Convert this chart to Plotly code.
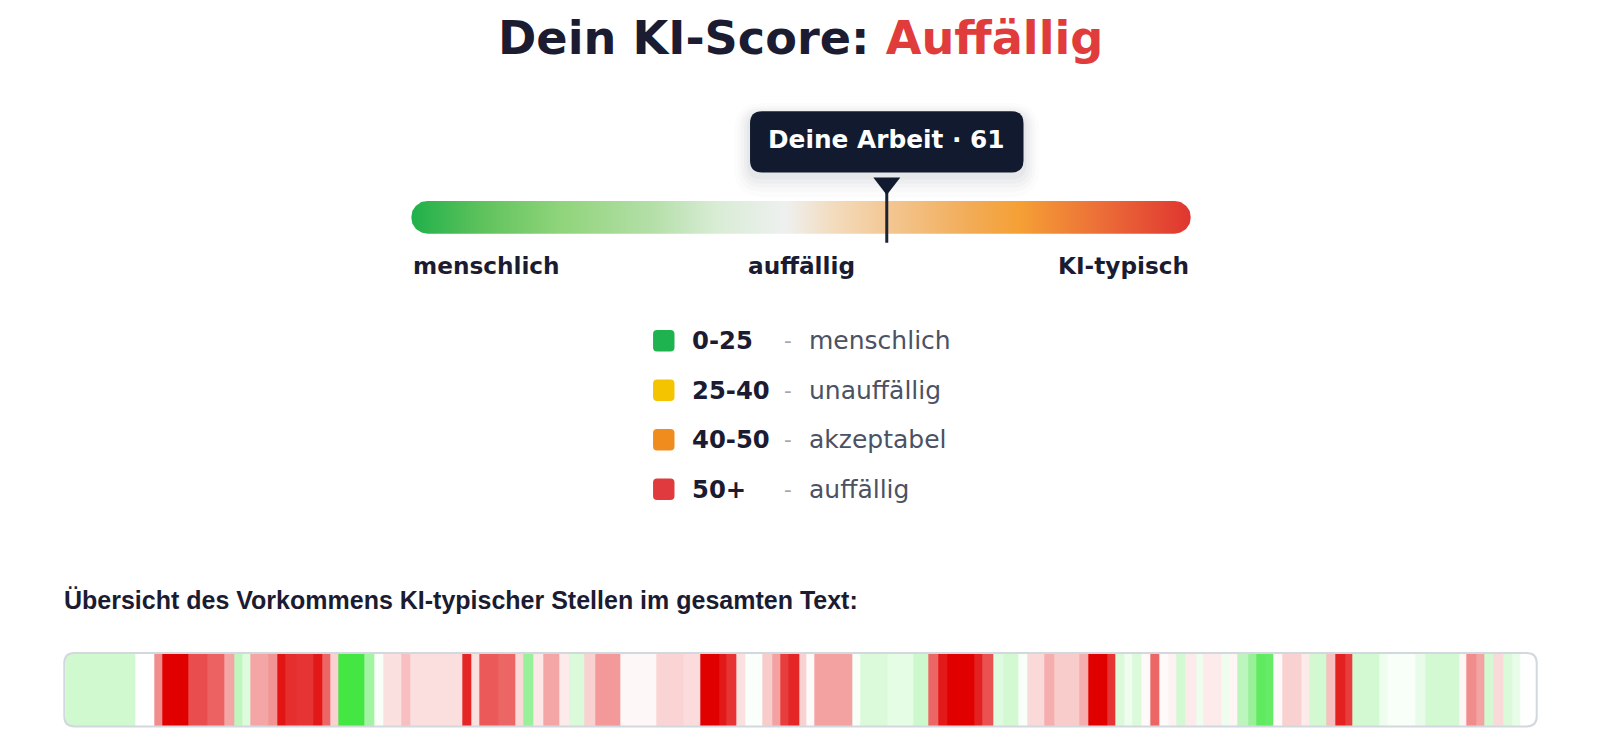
import numpy as np
import plotly.graph_objects as go

# target picture size (screen pixels)
W, H = 1600, 742
# the page is shown slightly reduced (about 0.98 screen px per css px) and the
# body keeps its default 8px margin, so the figure is sized in css px and the
# pixel axes below are laid out in screen px
SC = 0.98
M = 8
FW = int(W / SC - 2 * M)
FH = int(H / SC - 2 * M)
X_LO, X_HI = M * SC, (M + FW) * SC
Y_LO, Y_HI = M * SC, (M + FH) * SC

# --- data -----------------------------------------------------------------
score = 61
verdict = "Auffällig"

# colour ramp of the score bar (position in %, colour)
grad_pos = [0, 9, 19, 31, 39, 48, 54, 62, 72, 78, 88, 100]
grad_col = ["#20b04a", "#5ec25c", "#8fd47a", "#b4dfa8", "#d8ecd4", "#eef0f0",
            "#f3dcbf", "#f3c58e", "#f2ab55", "#f5a035", "#ec7038", "#e03530"]

scale_pos = [0, 50, 100]
scale_labels = ["menschlich", "auffällig", "KI-typisch"]

legend_ranges = ["0-25", "25-40", "40-50", "50+"]
legend_labels = ["menschlich", "unauffällig", "akzeptabel", "auffällig"]
legend_colors = ["#1fb34f", "#f5c400", "#f08c1e", "#e0393e"]

# text overview: segment borders (position in text) and score per segment
# (-1 = clearly human, +1 = clearly AI-typical)
seg_edges = [0, 69, 87, 95, 121, 139, 156, 166, 173, 181,
             199, 208, 216, 226, 243, 252, 260, 268, 293, 303,
             312, 329, 338, 389, 398, 406, 424, 441, 449, 459,
             468, 484, 494, 509, 519, 544, 579, 606, 622, 641,
             648, 658, 666, 683, 693, 701, 709, 719, 726, 734,
             771, 779, 806, 831, 846, 856, 864, 891, 899, 909,
             919, 934, 943, 959, 969, 994, 1003, 1021, 1029, 1038,
             1046, 1054, 1063, 1072, 1081, 1089, 1098, 1108, 1115, 1133,
             1141, 1149, 1159, 1167, 1176, 1184, 1193, 1211, 1219, 1236,
             1245, 1254, 1261, 1288, 1296, 1323, 1333, 1366, 1373, 1383,
             1391, 1399, 1409, 1418, 1426, 1441]
seg_scores = [-0.25, 0, 0.45, 1.0, 0.7, 0.62, 0.35, -0.35, -0.18, 0.35,
              0.42, 0.92, 0.82, 0.8, 0.9, 0.6, 0.18, -1.0, -0.5, -0.03,
              0.12, 0.25, 0.13, 0.85, 0.12, 0.65, 0.6, 0.15, -0.55, 0.09,
              0.35, 0.08, -0.2, 0.18, 0.4, 0.03, 0.17, 0.14, 1.0, 0.9,
              0.8, 0.12, -0.02, 0.2, 0.37, 0.76, 0.85, 0.18, 0.02, 0.37,
              -0.04, -0.2, -0.14, -0.27, 0.6, 0.9, 1.0, 0.87, 0.68, -0.17,
              -0.24, -0.04, 0.15, 0.32, 0.2, 0.32, 1.0, 0.8, -0.2, -0.09,
              -0.2, 0.02, 0.6, 0.02, 0.05, -0.24, 0.08, -0.09, 0.08, -0.09,
              0.04, -0.36, -0.55, -0.85, -0.82, 0.02, 0.18, 0.08, -0.24, 0.25,
              0.87, 0.76, -0.24, -0.09, -0.04, -0.12, -0.24, 0.04, 0.45, 0.36,
              -0.24, 0.15, -0.2, -0.12, 0]

# --- layout constants (screen pixels) --------------------------------------
DARK = "#1b1b31"
CX = 784
BAR_X0, BAR_X1, BAR_Y0, BAR_Y1 = 403, 1167, 197, 229
STRIP_X0, STRIP_X1, STRIP_Y0, STRIP_Y1 = 63, 1506, 640, 712


def dom_x(a, b):
    return [(a - X_LO) / (X_HI - X_LO), (b - X_LO) / (X_HI - X_LO)]


def dom_y(top, bottom):
    return [(Y_HI - bottom) / (Y_HI - Y_LO), (Y_HI - top) / (Y_HI - Y_LO)]


def rr_path(x0, x1, y0, y1, r):
    return (f"M {x0 + r},{y0} L {x1 - r},{y0} Q {x1},{y0} {x1},{y0 + r} "
            f"L {x1},{y1 - r} Q {x1},{y1} {x1 - r},{y1} L {x0 + r},{y1} "
            f"Q {x0},{y1} {x0},{y1 - r} L {x0},{y0 + r} Q {x0},{y0} {x0 + r},{y0} Z")


fig = go.Figure()

# invisible trace so the pixel axes exist
fig.add_trace(go.Scatter(x=[X_LO, X_HI], y=[Y_LO, Y_HI], mode="markers",
                         marker=dict(opacity=0), hoverinfo="skip", showlegend=False))

# score bar with rounded ends and horizontal gradient
r_px = (BAR_Y1 - BAR_Y0) / 2
r_u = r_px * 100 / (BAR_X1 - BAR_X0)
yc = (BAR_Y0 + BAR_Y1) / 2
t1 = np.linspace(-np.pi / 2, np.pi / 2, 40)
t2 = np.linspace(np.pi / 2, 3 * np.pi / 2, 40)
bx = np.concatenate([100 - r_u + r_u * np.cos(t1), r_u + r_u * np.cos(t2)])
by = np.concatenate([yc + r_px * np.sin(t1), yc + r_px * np.sin(t2)])
fig.add_trace(go.Scatter(
    x=bx, y=by, xaxis="x3", yaxis="y", mode="lines", line=dict(width=0),
    fill="toself",
    fillgradient=dict(type="horizontal",
                      colorscale=[[p / 100, c] for p, c in zip(grad_pos, grad_col)]),
    hoverinfo="skip", showlegend=False))

# overview strip
fig.add_trace(go.Heatmap(
    x=seg_edges, y=[0, 1], z=[seg_scores], xaxis="x2", yaxis="y2",
    colorscale=[[0, "#44e644"], [0.5, "#ffffff"], [1, "#e00000"]],
    zmin=-1, zmax=1, showscale=False, hoverinfo="skip"))

shapes = []
annotations = []

# title
annotations.append(dict(
    x=CX, y=37, xref="x", yref="y", showarrow=False,
    text=f"Dein KI-Score: <span style='color:#e03c3c'>{verdict}</span>",
    font=dict(family="DejaVu Sans", size=46.2, color=DARK, weight="bold")))

# marker + tooltip (soft shadow first); x offsets are css px around the score
hw = 134 / SC
for e, dy, op in [(16, 8, 0.012), (12, 7, 0.015), (9, 6, 0.02), (6, 5, 0.025), (3, 4, 0.03)]:
    shapes.append(dict(type="path", xref="x3", yref="y", xsizemode="pixel", xanchor=score,
                       path=rr_path(-hw - e, hw + e, 109 - e + dy, 169 + e + dy, 12 + e),
                       fillcolor=f"rgba(15,23,42,{op})", line=dict(width=0)))
shapes.append(dict(type="path", xref="x3", yref="y", xsizemode="pixel", xanchor=score,
                   path=rr_path(-hw, hw, 109, 169, 12),
                   fillcolor="#111a2e", line=dict(width=0)))
shapes.append(dict(type="line", xref="x3", yref="y", xsizemode="pixel", xanchor=score,
                   x0=0, x1=0, y0=180, y1=238, line=dict(color="#1c2333", width=3)))
shapes.append(dict(type="path", xref="x3", yref="y", xsizemode="pixel", xanchor=score,
                   path="M -13.5,174 L 13.5,174 L 0,191 Z",
                   fillcolor="#111a2e", line=dict(width=0)))
annotations.append(dict(
    x=score, y=137, xref="x3", yref="y", showarrow=False,
    text=f"Deine Arbeit · {score}",
    font=dict(family="DejaVu Sans", size=24.8, color="white", weight="bold")))

# scale labels under the bar
for p, lab, anc in zip(scale_pos, scale_labels, ["left", "center", "right"]):
    annotations.append(dict(
        x=p, y=260, xref="x3", yref="y", xanchor=anc, showarrow=False, text=lab,
        font=dict(family="DejaVu Sans", size=23.2, color=DARK, weight="bold")))

# legend
for i, (rng, lab, col) in enumerate(zip(legend_ranges, legend_labels, legend_colors)):
    y = 334 + i * 48.5
    shapes.append(dict(type="path", xref="x", yref="y",
                       path=rr_path(640, 661, y - 10.5, y + 10.5, 4),
                       fillcolor=col, line=dict(width=0)))
    annotations.append(dict(x=676, y=y, xref="x", yref="y", xanchor="left", showarrow=False,
                            text=rng, font=dict(family="DejaVu Sans", size=24.3, color=DARK,
                                                weight="bold")))
    annotations.append(dict(x=772, y=y, xref="x", yref="y", showarrow=False, text="-",
                            font=dict(family="DejaVu Sans", size=21.5, color="#a3a7ae")))
    annotations.append(dict(x=791, y=y, xref="x", yref="y", xanchor="left", showarrow=False,
                            text=lab, font=dict(family="DejaVu Sans", size=25,
                                                color="#4a5263")))

# overview heading
annotations.append(dict(
    x=61, y=588, xref="x", yref="y", xanchor="left", showarrow=False,
    text="Übersicht des Vorkommens KI-typischer Stellen im gesamten Text:",
    font=dict(family="Liberation Sans", size=25, color=DARK, weight="bold")))

# rounded corners of the strip
r = 10
x0, x1, y0, y1 = STRIP_X0, STRIP_X1, STRIP_Y0, STRIP_Y1
for cx, cy, sx, sy in [(x0, y0, 1, 1), (x1, y0, -1, 1), (x0, y1, 1, -1), (x1, y1, -1, -1)]:
    shapes.append(dict(type="path", xref="x", yref="y",
                       path=(f"M {cx - sx * 2},{cy - sy * 2} L {cx + sx * r},{cy - sy * 2} "
                             f"L {cx + sx * r},{cy} Q {cx},{cy} {cx},{cy + sy * r} "
                             f"L {cx - sx * 2},{cy + sy * r} Z"),
                       fillcolor="white", line=dict(width=0)))
shapes.append(dict(type="path", xref="x", yref="y", path=rr_path(x0, x1, y0, y1, r),
                   fillcolor="rgba(0,0,0,0)", line=dict(color="#d3d7de", width=2)))

hidden = dict(visible=False, fixedrange=True)
fig.update_layout(
    width=FW, height=FH, margin=dict(l=0, r=0, t=0, b=0),
    paper_bgcolor="white", plot_bgcolor="rgba(0,0,0,0)",
    showlegend=False, hovermode=False,
    xaxis=dict(range=[X_LO, X_HI], domain=[0, 1], **hidden),
    yaxis=dict(range=[Y_HI, Y_LO], domain=[0, 1], **hidden),
    xaxis2=dict(range=[seg_edges[0], seg_edges[-1]],
                domain=dom_x(STRIP_X0 + 1, STRIP_X1 - 1), anchor="y2", **hidden),
    yaxis2=dict(range=[0, 1], domain=dom_y(STRIP_Y0, STRIP_Y1), anchor="x2", **hidden),
    xaxis3=dict(range=[0, 100], domain=dom_x(BAR_X0, BAR_X1), anchor="y", **hidden),
    shapes=shapes, annotations=annotations,
)

fig.write_html("out.html")
